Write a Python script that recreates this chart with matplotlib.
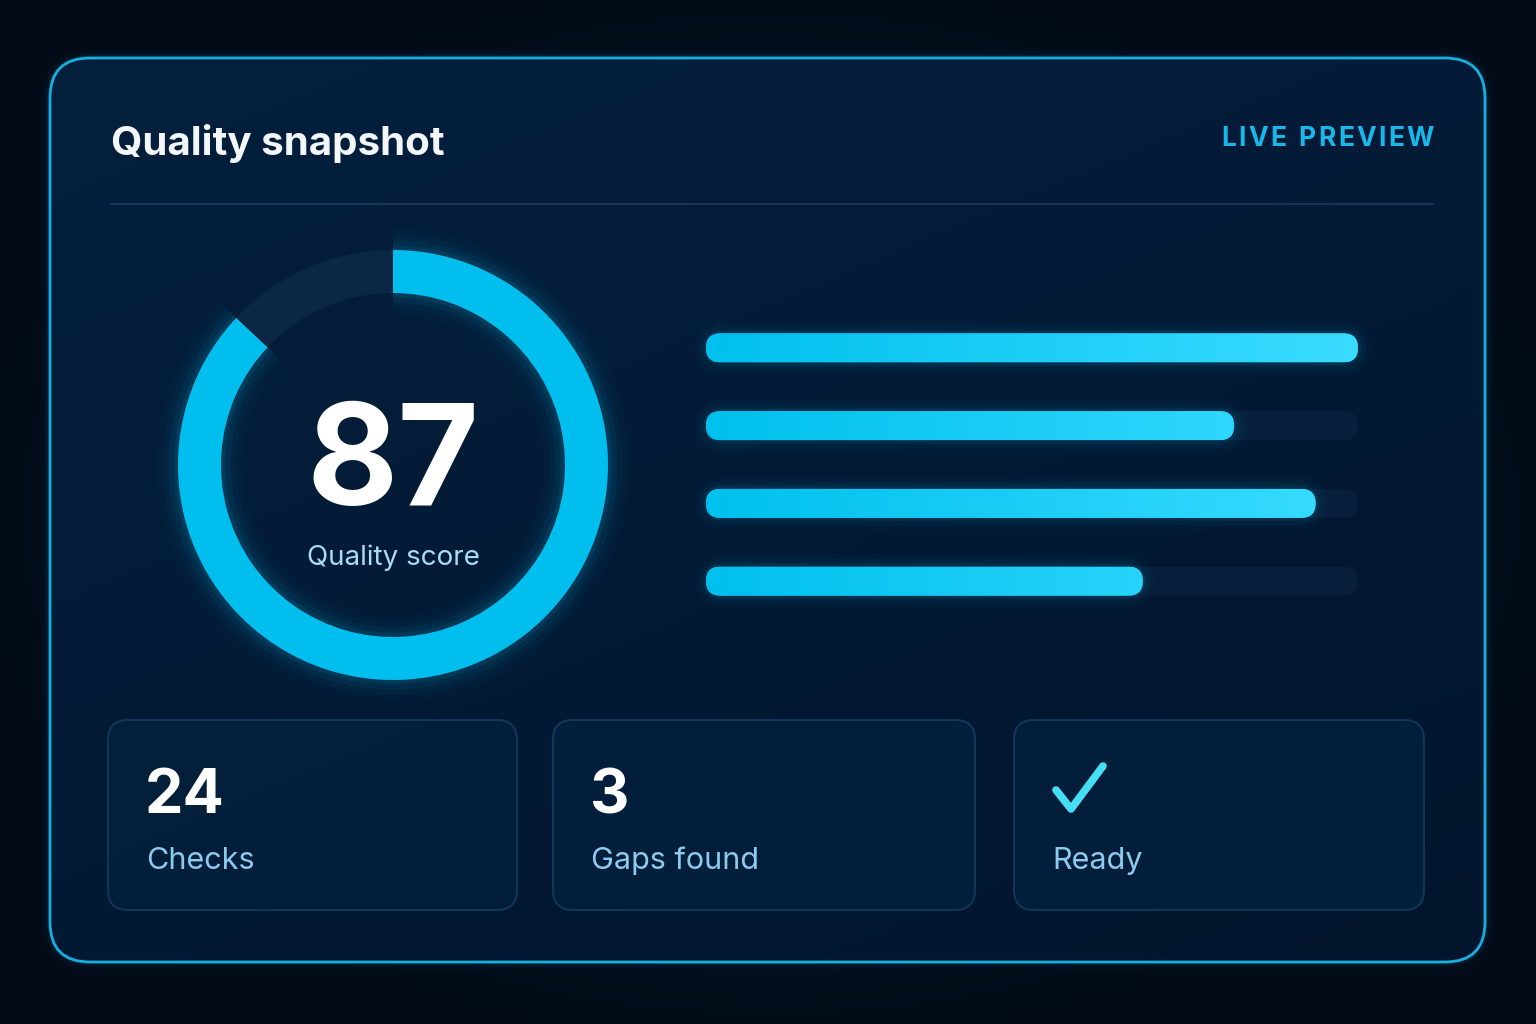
import matplotlib
matplotlib.use("Agg")
import matplotlib.pyplot as plt
import numpy as np
from matplotlib.patches import FancyBboxPatch
from matplotlib.colors import LinearSegmentedColormap

# --- данные ---
title = "Quality snapshot"
badge = "LIVE PREVIEW"
score = 87
score_label = "Quality score"
bar_values = [100, 81, 93.5, 67]
stat_values = ["24", "3", None]
stat_labels = ["Checks", "Gaps found", "Ready"]

# --- стиль ---
W, H = 1536, 1024
BG = "#020d1a"
CYAN = "#00bfee"
CYAN_LIGHT = "#3adcff"
BORDER = "#18aede"
TRACK = "#0c2743"
CARD_FC = "#04203c"
CARD_EC = "#173a5e"
LABEL = "#8ccbef"

plt.rcParams['font.family'] = ['Inter', 'DejaVu Sans']

fig = plt.figure(figsize=(W / 100, H / 100), dpi=100)
fig.patch.set_facecolor(BG)
ax = fig.add_axes([0, 0, 1, 1])
ax.set_xlim(0, W)
ax.set_ylim(H, 0)
ax.axis('off')

# фон с мягкой виньеткой
yy, xx = np.mgrid[0:H:4, 0:W:4]
d = np.sqrt(((xx - W / 2) / (W / 1.4)) ** 2 + ((yy - H / 2) / (H / 1.4)) ** 2)
bg_cmap = LinearSegmentedColormap.from_list("bg", ["#05192f", "#020b17"])
ax.imshow(d, cmap=bg_cmap, extent=[0, W, H, 0], aspect='auto', zorder=0, vmin=0.2, vmax=0.75)

# основная панель
px0, py0, px1, py1 = 50, 58, 1485, 962
for g, a in [(12, 0.025), (7, 0.045), (4, 0.07)]:
    ax.add_patch(FancyBboxPatch((px0, py0), px1 - px0, py1 - py0,
                                boxstyle="round,pad=0,rounding_size=40",
                                fc='none', ec=BORDER, lw=g, alpha=a, zorder=1))
panel = FancyBboxPatch((px0, py0), px1 - px0, py1 - py0,
                       boxstyle="round,pad=0,rounding_size=40",
                       fc='#031a33', ec='none', zorder=1)
ax.add_patch(panel)
gy, gx = np.mgrid[0:1:200j, 0:1:300j]
grad = 0.6 * gy + 0.4 * gx
panel_cmap = LinearSegmentedColormap.from_list("panel", ["#04203d", "#02152d"])
im = ax.imshow(grad, cmap=panel_cmap, extent=[px0, px1, py1, py0], aspect='auto', zorder=2)
im.set_clip_path(panel)
ax.add_patch(FancyBboxPatch((px0, py0), px1 - px0, py1 - py0,
                            boxstyle="round,pad=0,rounding_size=40",
                            fc='none', ec=BORDER, lw=2.0, zorder=3))

# заголовок
ax.text(111, 155, title, color='#f4f7fa', fontsize=29, fontweight='bold',
        ha='left', va='baseline', zorder=5)

# бейдж с разрядкой
renderer = fig.canvas.get_renderer()
badge_kw = dict(color='#18b8ea', fontsize=19, fontweight='bold', va='baseline', zorder=5)
tracking = 2.4
widths = []
for ch in badge:
    t = ax.text(0, 0, ch if ch != ' ' else 'i', **badge_kw)
    widths.append(t.get_window_extent(renderer).width)
    t.remove()
total = sum(widths) + tracking * (len(badge) - 1)
x = 1434 - total
for ch, w in zip(badge, widths):
    if ch != ' ':
        ax.text(x, 146, ch, ha='left', **badge_kw)
    x += w + tracking

ax.plot([111, 1433], [204, 204], color='#173558', lw=1.5, zorder=4)

# --- кольцевая диаграмма ---
cx, cy, R = 393, 465, 215
pad = 1.35
dax = fig.add_axes([(cx - R * pad) / W, (H - cy - R * pad) / H, 2 * R * pad / W, 2 * R * pad / H])
ring = 0.2
for e, a in [(0.10, 0.025), (0.07, 0.04), (0.045, 0.06), (0.02, 0.09)]:
    dax.pie([score, 100 - score], radius=1 + e, startangle=90, counterclock=False,
            colors=[CYAN, 'none'],
            wedgeprops=dict(width=ring + 2 * e, edgecolor='none', alpha=a))
dax.pie([score, 100 - score], radius=1, startangle=90, counterclock=False,
        colors=[CYAN, TRACK], wedgeprops=dict(width=ring, edgecolor='none'))
dax.set_xlim(-pad, pad)
dax.set_ylim(-pad, pad)
dax.axis('off')

ax.text(cx, 505, str(score), color='white', fontsize=101, fontweight='bold',
        ha='center', va='baseline', zorder=6)
ax.text(cx, 565, score_label, color='#a9daf7', fontsize=20,
        ha='center', va='baseline', zorder=6)

# --- горизонтальные полосы ---
bx0, bx1 = 706, 1358
by_top, by_bot = 309, 620
n = len(bar_values)
bax = fig.add_axes([bx0 / W, (H - by_bot) / H, (bx1 - bx0) / W, (by_bot - by_top) / H])
bax.set_xlim(0, 100)
bax.set_ylim(n - 0.5, -0.5)
bax.axis('off')
thick_px = 29
x_per_px = 100 / (bx1 - bx0)
y_per_px = n / (by_bot - by_top)
bar_h = thick_px * y_per_px
rad = thick_px / 2 * x_per_px
aspect = y_per_px / x_per_px
grad_cmap = LinearSegmentedColormap.from_list("bar", ["#00c0ee", CYAN_LIGHT])
lw = thick_px * 0.72
for i, v in enumerate(bar_values):
    track = FancyBboxPatch((0, i - bar_h / 2), 100, bar_h,
                           boxstyle=f"round,pad=0,rounding_size={rad}",
                           mutation_aspect=aspect, fc=TRACK, ec='none', alpha=0.5,
                           clip_on=False, zorder=1)
    bax.add_patch(track)
    for g, a in [(18, 0.025), (11, 0.045), (5, 0.07)]:
        bax.plot([rad, v - rad], [i, i], lw=lw + g, color=CYAN, alpha=a,
                 solid_capstyle='round', clip_on=False, zorder=2)
    bar = FancyBboxPatch((0, i - bar_h / 2), v, bar_h,
                         boxstyle=f"round,pad=0,rounding_size={rad}",
                         mutation_aspect=aspect, fc=CYAN, ec='none', clip_on=False,
                         zorder=3)
    bax.add_patch(bar)
    gimg = bax.imshow(np.linspace(0, v / 100, 256)[None, :], cmap=grad_cmap, vmin=0, vmax=1,
                      extent=[0, v, i + bar_h / 2, i - bar_h / 2], aspect='auto',
                      interpolation='bilinear', zorder=4)
    gimg.set_clip_path(bar)
bax.set_xlim(0, 100)
bax.set_ylim(n - 0.5, -0.5)

# --- карточки ---
cards_x = [(108, 517), (553, 975), (1014, 1424)]
card_y0, card_y1 = 720, 910
for (x0, x1), val, lab in zip(cards_x, stat_values, stat_labels):
    ax.add_patch(FancyBboxPatch((x0, card_y0), x1 - x0, card_y1 - card_y0,
                                boxstyle="round,pad=0,rounding_size=20",
                                fc=CARD_FC, ec=CARD_EC, lw=1.5, alpha=0.85, zorder=4))
    tx = x0 + 38
    if val is not None:
        ax.text(tx - 1, 813, val, color='white', fontsize=44, fontweight='bold',
                ha='left', va='baseline', zorder=6)
    else:
        # иконка галочки
        ax.plot([tx + 4, tx + 19, tx + 51], [790, 809, 766], color='#45def5',
                lw=5.5, solid_capstyle='round', solid_joinstyle='round', zorder=6)
    ax.text(tx, 869, lab, color=LABEL, fontsize=22, ha='left', va='baseline', zorder=6)

fig.savefig("out.png", dpi=100, facecolor=BG)
